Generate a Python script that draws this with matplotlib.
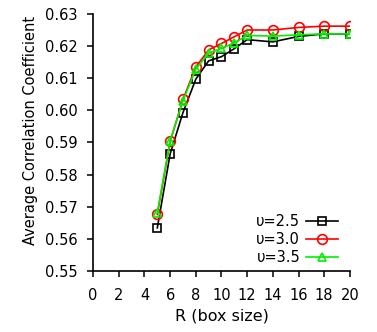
import matplotlib
matplotlib.use("Agg")
import matplotlib.pyplot as plt

x = [5, 6, 7, 8, 9, 10, 11, 12, 14, 16, 18, 20]
u25 = [0.5634, 0.5864, 0.5993, 0.6097, 0.6154, 0.6167, 0.6192, 0.6220, 0.6213, 0.6230, 0.6238, 0.6238]
u30 = [0.5676, 0.5903, 0.6034, 0.6135, 0.6188, 0.6208, 0.6229, 0.6250, 0.6250, 0.6258, 0.6262, 0.6262]
u35 = [0.5681, 0.5905, 0.6030, 0.6128, 0.6178, 0.6193, 0.6210, 0.6233, 0.6231, 0.6235, 0.6238, 0.6238]
labels = ["υ=2.5", "υ=3.0", "υ=3.5"]
xticks = list(range(0, 21, 2))
yticks = [0.55, 0.56, 0.57, 0.58, 0.59, 0.60, 0.61, 0.62, 0.63]

plt.rcParams['font.family'] = ['DejaVu Sans']
fig = plt.figure(figsize=(3.77, 3.32), dpi=100)
ax = fig.add_axes([0.247, 0.184, 0.681, 0.774])

ax.plot(x, u25, color='black', marker='s', mfc='none', ms=5.8, mew=1.2, lw=1.2, label=labels[0])
ax.plot(x, u30, color='red', marker='o', mfc='none', ms=7, mew=1.2, lw=1.2, label=labels[1])
ax.plot(x, u35, color='#00f000', marker='^', mfc='none', ms=6.2, mew=1.2, lw=1.2, label=labels[2])

ax.set_xlim(0, 20)
ax.set_ylim(0.55, 0.63)
ax.set_xticks(xticks)
ax.set_yticks(yticks)
ax.set_yticklabels([f"{v:.2f}" for v in yticks])
ax.tick_params(labelsize=10.5, direction='out', length=4.5, width=1.1)
ax.tick_params(axis='y', pad=6.5)
ax.tick_params(axis='x', pad=7.5)
for s in ['top', 'right']:
    ax.spines[s].set_visible(False)
for s in ['left', 'bottom']:
    ax.spines[s].set_linewidth(1.2)
ax.set_xlabel("R (box size)", fontsize=11.5, labelpad=4)
ax.set_ylabel("Average Correlation Coefficient", fontsize=10.5)
ax.yaxis.set_label_coords(-0.215, 0.545)
leg = ax.legend(loc='lower right', frameon=False, markerfirst=False, fontsize=10.5,
                handlelength=2.2, handletextpad=0.4, labelspacing=0.2,
                bbox_to_anchor=(0.977, 0.0), borderaxespad=0.0)
fig.savefig("out.png", dpi=100)
